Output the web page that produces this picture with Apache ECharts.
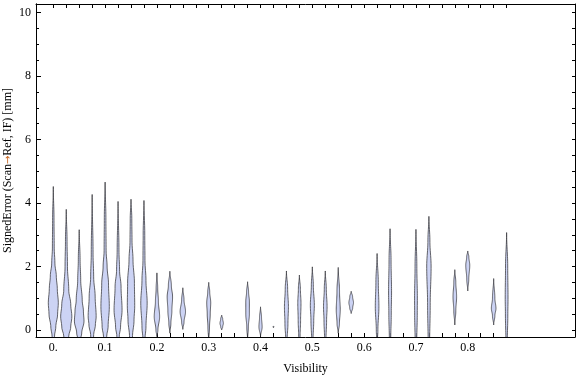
<!DOCTYPE html>
<html lang="en">
<head>
    <meta charset="UTF-8">
    <title>Signed error vs visibility</title>
    <style>
        html, body { margin: 0; padding: 0; background: #fff; }
        #main { width: 576px; height: 377px; }
    </style>
</head>
<body>
<div id="main"></div>
<script src="https://cdn.jsdelivr.net/npm/echarts@6/dist/echarts.min.js"></script>
<script>
    // violin positions (visibility bins)
    const visibility = [0, 0.025, 0.05, 0.075, 0.1, 0.125, 0.15, 0.175, 0.2, 0.225, 0.25,
        0.3, 0.325, 0.375, 0.4, 0.425, 0.45, 0.475, 0.5, 0.525, 0.55, 0.575,
        0.625, 0.65, 0.7, 0.725, 0.775, 0.8, 0.85, 0.875];

    // density profile of each violin: [error, density] from min to max
    const profiles = [
        [[-0.84, 0], [-0.5, 0.7], [-0.2, 1.2], [0.1, 2.5], [0.5, 4.3], [0.85, 5], [1.3, 4], [1.7, 3], [2.1, 1.6], [2.6, 0.9], [3.5, 0.7], [4.52, 0]],
        [[-0.89, 0], [-0.5, 0.8], [-0.2, 2.5], [0.1, 4.5], [0.42, 5.6], [0.8, 4.5], [1.26, 2.5], [2.0, 1.2], [2.8, 0.8], [3.8, 0]],
        [[-0.63, 0], [-0.35, 0.8], [-0.1, 2.5], [0.28, 4.8], [0.6, 4.2], [0.94, 3], [1.57, 1.5], [2.2, 0.9], [3.16, 0]],
        [[-0.92, 0], [-0.5, 0.7], [-0.15, 1.5], [0.15, 3.2], [0.42, 4], [1.05, 3], [1.67, 1.5], [2.4, 0.9], [4.27, 0]],
        [[-0.94, 0], [-0.5, 0.8], [-0.2, 1.6], [0.1, 3], [0.73, 4.2], [1.46, 3.4], [2.0, 2], [2.5, 1], [3.5, 0.8], [4.66, 0]],
        [[-0.52, 0], [-0.2, 1.2], [0.1, 2.5], [0.63, 4], [1.36, 3], [1.88, 1.5], [2.5, 0.9], [4.05, 0]],
        [[-1.03, 0], [-0.6, 0.7], [-0.2, 1.5], [0.3, 3], [0.75, 3.7], [1.5, 3.4], [2.2, 2], [2.8, 1], [3.5, 0.8], [4.12, 0]],
        [[-0.65, 0], [-0.3, 1], [0.1, 2], [0.85, 3.2], [1.57, 2], [2.2, 1], [3.0, 0.8], [4.08, 0]],
        [[-0.21, 0], [0, 1], [0.42, 2.7], [0.9, 1.5], [1.3, 0.8], [1.8, 0]],
        [[-0.1, 0], [0.2, 1], [0.6, 2], [1.05, 2.7], [1.4, 1.5], [1.85, 0]],
        [[0.02, 0], [0.25, 1.2], [0.58, 2.7], [0.95, 1.2], [1.33, 0]],
        [[-0.37, 0], [0.1, 0.8], [0.5, 1.5], [0.86, 2], [1.2, 1], [1.5, 0]],
        [[0, 0], [0.1, 1], [0.21, 1.7], [0.35, 1], [0.47, 0]],
        [[-0.31, 0], [0.1, 0.8], [0.5, 1.8], [0.9, 1.8], [1.2, 1], [1.52, 0]],
        [[-0.21, 0], [0.1, 1.6], [0.4, 1], [0.73, 0]],
        [[0.07, 0], [0.1, 0.6], [0.12, 0]],
        [[-0.82, 0], [-0.3, 0.7], [0.2, 1.5], [0.73, 2], [1.3, 1.2], [1.86, 0]],
        [[-0.73, 0], [-0.2, 0.7], [0.3, 1.2], [0.84, 1.6], [1.3, 1], [1.73, 0]],
        [[-0.82, 0], [-0.3, 0.7], [0.3, 1.4], [0.78, 2], [1.4, 1], [1.99, 0]],
        [[-0.84, 0], [-0.3, 0.7], [0.3, 1.3], [0.73, 1.8], [1.3, 1], [1.86, 0]],
        [[-0.1, 0], [0.2, 1.2], [0.63, 2], [1.2, 1.3], [1.97, 0]],
        [[0.52, 0], [0.7, 1.5], [0.86, 2.3], [1.05, 1.4], [1.22, 0]],
        [[-0.47, 0], [0, 0.8], [0.73, 1.8], [1.5, 1.2], [2.41, 0]],
        [[-1.0, 0], [-0.3, 0.7], [0.5, 1.2], [1.2, 1.5], [2.2, 1], [3.19, 0]],
        [[-1.47, 0], [-0.5, 0.7], [0.5, 1.3], [1.0, 1.4], [2.0, 0.9], [3.17, 0]],
        [[-1.36, 0], [-0.5, 0.7], [0.8, 1.3], [2.0, 2.2], [2.8, 1], [3.58, 0]],
        [[0.16, 0], [0.6, 1], [1.05, 1.8], [1.5, 1], [1.9, 0]],
        [[1.23, 0], [1.6, 1], [2.04, 2], [2.3, 1.1], [2.49, 0]],
        [[0.16, 0], [0.45, 1.2], [0.68, 2.3], [1.0, 1.2], [1.62, 0]],
        [[-1.44, 0], [-0.5, 0.6], [0.5, 1.2], [1.0, 1.4], [2.0, 1.1], [3.07, 0]]
    ];

    // axis ticks and labels
    const xTicks = [0, 0.025, 0.05, 0.075, 0.1, 0.125, 0.15, 0.175, 0.2, 0.225, 0.25, 0.275,
        0.3, 0.325, 0.35, 0.375, 0.4, 0.425, 0.45, 0.475, 0.5, 0.525, 0.55, 0.575,
        0.6, 0.625, 0.65, 0.675, 0.7, 0.725, 0.75, 0.775, 0.8, 0.825, 0.85, 0.875];
    const xLabels = [0, 0.1, 0.2, 0.3, 0.4, 0.5, 0.6, 0.7, 0.8];
    const yLabels = [0, 2, 4, 6, 8, 10];
    const yMinorTicks = [0.5, 1, 1.5, 2.5, 3, 3.5, 4.5, 5, 5.5, 6.5, 7, 7.5, 8.5, 9, 9.5];
    const yAllTicks = [0, 0.5, 1, 1.5, 2, 2.5, 3, 3.5, 4, 4.5, 5, 5.5, 6, 6.5, 7, 7.5, 8, 8.5, 9, 9.5, 10];

    const X_MIN = -0.0334, X_MAX = 1.007;
    const Y_MIN = -0.22, Y_MAX = 10.27;
    const DENSITY_SCALE = 1 / 518; // density unit -> visibility units

    const serif = '"Liberation Serif", "DejaVu Serif", serif';

    // smooth (cosine) interpolation of a profile at error value y
    function densityAt(prof, y) {
        for (let i = 0; i < prof.length - 1; i++) {
            const a = prof[i], b = prof[i + 1];
            if (y >= a[0] && y <= b[0]) {
                const t = (y - a[0]) / (b[0] - a[0] || 1);
                const s = (1 - Math.cos(Math.PI * t)) / 2;
                return a[1] + (b[1] - a[1]) * s;
            }
        }
        return 0;
    }

    function renderViolin(params, api) {
        const i = api.value(0);
        const x = visibility[i];
        const prof = profiles[i];
        const lo = prof[0][0], hi = prof[prof.length - 1][0];
        const n = 60;
        const right = [], left = [];
        for (let k = 0; k <= n; k++) {
            const y = lo + (hi - lo) * k / n;
            const w = densityAt(prof, y) * DENSITY_SCALE;
            right.push(api.coord([x + w, y]));
            left.push(api.coord([x - w, y]));
        }
        const pts = right.concat(left.reverse());
        return {
            type: 'polygon',
            shape: { points: pts },
            style: {
                fill: '#ccd3f4',
                stroke: 'rgba(55,55,60,0.85)',
                lineWidth: 0.9
            }
        };
    }

    const myChart = echarts.init(document.getElementById('main'));
    const axisLine = { show: true, onZero: false, lineStyle: { color: '#000', width: 1 } };

    myChart.setOption({
        animation: false,
        grid: { left: 36, right: 1, top: 4, bottom: 40, outerBoundsMode: 'none', containLabel: false },
        xAxis: [{
            type: 'value', position: 'bottom', min: X_MIN, max: X_MAX,
            axisLine: axisLine,
            splitLine: { show: false },
            axisTick: { customValues: xTicks, inside: true, length: 4, lineStyle: { color: '#000' } },
            axisLabel: {
                customValues: xLabels, margin: 5, color: '#000',
                fontFamily: serif, fontSize: 12,
                formatter: v => v === 0 ? '0.' : v.toFixed(1)
            },
            name: 'Visibility', nameLocation: 'middle', nameGap: 26, nameMoveOverlap: false,
            nameTextStyle: { color: '#000', fontFamily: serif, fontSize: 12 }
        }, {
            type: 'value', position: 'top', min: X_MIN, max: X_MAX,
            axisLine: axisLine,
            splitLine: { show: false },
            axisTick: { customValues: xTicks, inside: true, length: 4, lineStyle: { color: '#000' } },
            axisLabel: { show: false }
        }],
        yAxis: [{
            type: 'value', position: 'left', min: Y_MIN, max: Y_MAX,
            axisLine: axisLine,
            splitLine: { show: false },
            axisTick: { customValues: yLabels, inside: true, length: 5, lineStyle: { color: '#000' } },
            axisLabel: {
                customValues: yLabels, margin: 5, color: '#000',
                fontFamily: serif, fontSize: 12
            },
            name: 'SignedError (Scan{a|→}Ref, IF) [mm]', nameLocation: 'middle', nameGap: 22,
            nameMoveOverlap: false,
            nameTextStyle: {
                color: '#000', fontFamily: serif, fontSize: 12,
                rich: { a: { color: '#c8641e', fontFamily: '"DejaVu Sans", sans-serif', fontSize: 10 } }
            }
        }, {
            type: 'value', position: 'left', min: Y_MIN, max: Y_MAX,
            axisLine: axisLine,
            splitLine: { show: false },
            axisTick: { customValues: yMinorTicks, inside: true, length: 3, lineStyle: { color: '#000' } },
            axisLabel: { show: false }
        }, {
            type: 'value', position: 'right', min: Y_MIN, max: Y_MAX,
            axisLine: axisLine,
            splitLine: { show: false },
            axisTick: { customValues: yAllTicks, inside: true, length: 3, lineStyle: { color: '#000' } },
            axisLabel: { show: false }
        }],
        series: [{
            type: 'custom',
            xAxisIndex: 0,
            yAxisIndex: 0,
            renderItem: renderViolin,
            clip: true,
            data: visibility.map((v, i) => [i])
        }]
    });
</script>
</body>
</html>
